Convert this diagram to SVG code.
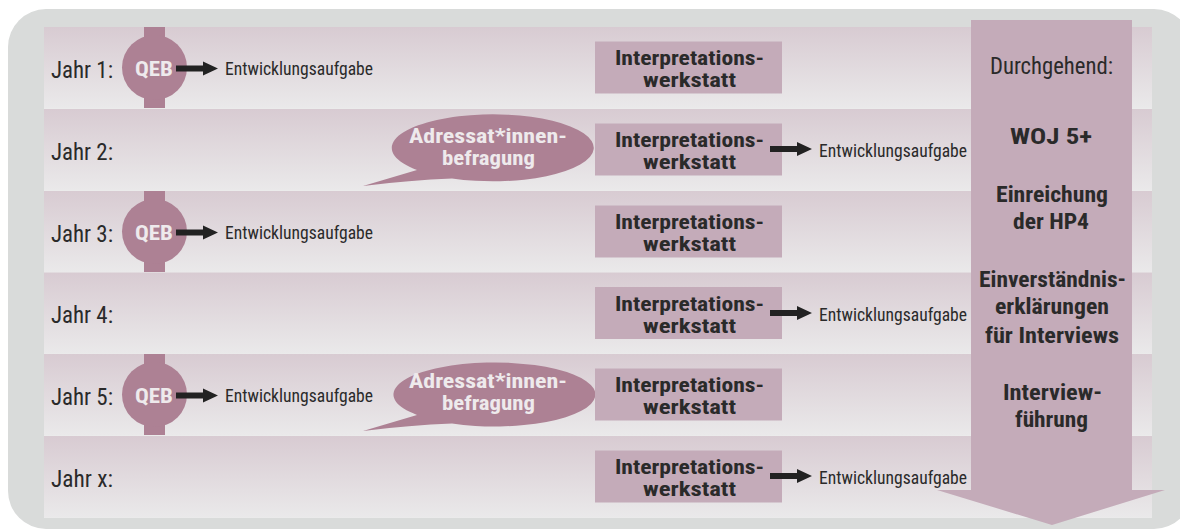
<svg xmlns="http://www.w3.org/2000/svg" xmlns:xlink="http://www.w3.org/1999/xlink" width="1180" height="529" viewBox="0 0 1180 529">
<style>
.t{font-family:"Liberation Sans Narrow","Roboto Condensed","DejaVu Sans Condensed","Liberation Sans",sans-serif;fill:#2a2a2a}
.b{font-weight:bold}
.w{fill:#eeeaec}
.m{text-anchor:middle}
.row{fill:url(#rg)}
.box{fill:#c4abb9}
.dot{fill:#ad8194}
.ar{fill:#222}
.two{font-size:20px}
</style>
<defs>
<linearGradient id="rg" x1="0" y1="0" x2="0" y2="1">
<stop offset="0" stop-color="#d8cbd2"/>
<stop offset="1" stop-color="#eae9ea"/>
</linearGradient>
<path id="arr" d="M0,-3 H27 V-7 L42,0 L27,7 V3 H0 Z"/>
</defs>
<rect x="8" y="9" width="1184" height="520" rx="38" fill="#d9dbda"/>
<rect x="44" y="27" width="1108" height="491" fill="#ebebeb"/>
<g id="rows">
<rect class="row" x="44" y="27" width="1108" height="81"/>
<rect class="row" x="44" y="109" width="1108" height="81"/>
<rect class="row" x="44" y="191" width="1108" height="81"/>
<rect class="row" x="44" y="272.5" width="1108" height="81"/>
<rect class="row" x="44" y="354" width="1108" height="81"/>
<rect class="row" x="44" y="436" width="1108" height="81.5"/>
</g>
<g id="durchgehend">
<path d="M971,20 H1132 V490 H1165 L1052,525 L937,490 H971 Z" fill="#c4abb9"/>
<text class="t m" x="1051.5" y="74" font-size="23" textLength="123" lengthAdjust="spacingAndGlyphs">Durchgehend:</text>
<text class="t b m" x="1051" y="144" font-size="22" textLength="82" lengthAdjust="spacingAndGlyphs">WOJ 5+</text>
<text class="t b m" x="1052" y="202" font-size="22" textLength="112" lengthAdjust="spacingAndGlyphs">Einreichung</text>
<text class="t b m" x="1051" y="229" font-size="22" textLength="76" lengthAdjust="spacingAndGlyphs">der HP4</text>
<text class="t b m" x="1052.5" y="287" font-size="22" textLength="147" lengthAdjust="spacingAndGlyphs">Einverständnis-</text>
<text class="t b m" x="1052" y="314" font-size="22" textLength="114" lengthAdjust="spacingAndGlyphs">erklärungen</text>
<text class="t b m" x="1052" y="343" font-size="22" textLength="134" lengthAdjust="spacingAndGlyphs">für Interviews</text>
<text class="t b m" x="1052.5" y="400" font-size="22" textLength="99" lengthAdjust="spacingAndGlyphs">Interview-</text>
<text class="t b m" x="1051.5" y="427" font-size="22" textLength="73" lengthAdjust="spacingAndGlyphs">führung</text>
</g>
<g id="jahr1">
<text class="t" x="51" y="78" font-size="23" textLength="62" lengthAdjust="spacingAndGlyphs">Jahr 1:</text>
<rect class="dot" x="144" y="27" width="21" height="81"/>
<circle class="dot" cx="154.5" cy="67.5" r="32.5"/>
<text class="t b w m" x="154" y="76" font-size="21" textLength="38" lengthAdjust="spacingAndGlyphs">QEB</text>
<text class="t" x="225" y="75" font-size="18" textLength="148" lengthAdjust="spacingAndGlyphs">Entwicklungsaufgabe</text>
<rect class="box" x="595" y="41.5" width="187" height="52"/>
<text class="t b m two" x="689.5" y="65" textLength="149" lengthAdjust="spacingAndGlyphs">Interpretations-</text>
<text class="t b m two" x="689.5" y="87" textLength="93" lengthAdjust="spacingAndGlyphs">werkstatt</text>
</g>
<g id="jahr2">
<text class="t" x="51" y="160" font-size="23" textLength="62" lengthAdjust="spacingAndGlyphs">Jahr 2:</text>
<path class="dot" d="M363,186 L417,170 A101,33.5 0 1 1 452,178.5 Q410,180 363,186 Z"/>
<text class="t b w m two" x="488" y="143" textLength="158" lengthAdjust="spacingAndGlyphs">Adressat*innen-</text>
<text class="t b w m two" x="488.5" y="165" textLength="93" lengthAdjust="spacingAndGlyphs">befragung</text>
<rect class="box" x="595" y="123.5" width="187" height="52"/>
<text class="t b m two" x="689.5" y="147" textLength="149" lengthAdjust="spacingAndGlyphs">Interpretations-</text>
<text class="t b m two" x="689.5" y="169" textLength="93" lengthAdjust="spacingAndGlyphs">werkstatt</text>
<text class="t" x="819" y="157" font-size="18" textLength="148" lengthAdjust="spacingAndGlyphs">Entwicklungsaufgabe</text>
</g>
<g id="jahr3">
<text class="t" x="51" y="242" font-size="23" textLength="62" lengthAdjust="spacingAndGlyphs">Jahr 3:</text>
<rect class="dot" x="144" y="191" width="21" height="81"/>
<circle class="dot" cx="154.5" cy="231.5" r="32.5"/>
<text class="t b w m" x="154" y="240" font-size="21" textLength="38" lengthAdjust="spacingAndGlyphs">QEB</text>
<text class="t" x="225" y="239" font-size="18" textLength="148" lengthAdjust="spacingAndGlyphs">Entwicklungsaufgabe</text>
<rect class="box" x="595" y="205.5" width="187" height="52"/>
<text class="t b m two" x="689.5" y="229" textLength="149" lengthAdjust="spacingAndGlyphs">Interpretations-</text>
<text class="t b m two" x="689.5" y="251" textLength="93" lengthAdjust="spacingAndGlyphs">werkstatt</text>
</g>
<g id="jahr4">
<text class="t" x="51" y="323" font-size="23" textLength="62" lengthAdjust="spacingAndGlyphs">Jahr 4:</text>
<rect class="box" x="595" y="287" width="187" height="52"/>
<text class="t b m two" x="689.5" y="310.5" textLength="149" lengthAdjust="spacingAndGlyphs">Interpretations-</text>
<text class="t b m two" x="689.5" y="332.5" textLength="93" lengthAdjust="spacingAndGlyphs">werkstatt</text>
<text class="t" x="819" y="320.5" font-size="18" textLength="148" lengthAdjust="spacingAndGlyphs">Entwicklungsaufgabe</text>
</g>
<g id="jahr5">
<text class="t" x="51" y="404.5" font-size="23" textLength="62" lengthAdjust="spacingAndGlyphs">Jahr 5:</text>
<rect class="dot" x="144" y="354" width="21" height="81"/>
<circle class="dot" cx="154.5" cy="394.5" r="32.5"/>
<text class="t b w m" x="154" y="403" font-size="21" textLength="38" lengthAdjust="spacingAndGlyphs">QEB</text>
<text class="t" x="225" y="402" font-size="18" textLength="148" lengthAdjust="spacingAndGlyphs">Entwicklungsaufgabe</text>
<path class="dot" d="M363,431 L417,415 A101,32 0 1 1 452,423.5 Q410,425 363,431 Z"/>
<text class="t b w m two" x="488" y="388" textLength="158" lengthAdjust="spacingAndGlyphs">Adressat*innen-</text>
<text class="t b w m two" x="488.5" y="410" textLength="93" lengthAdjust="spacingAndGlyphs">befragung</text>
<rect class="box" x="595" y="368.5" width="187" height="52"/>
<text class="t b m two" x="689.5" y="392" textLength="149" lengthAdjust="spacingAndGlyphs">Interpretations-</text>
<text class="t b m two" x="689.5" y="414" textLength="93" lengthAdjust="spacingAndGlyphs">werkstatt</text>
</g>
<g id="jahrx">
<text class="t" x="51" y="486.5" font-size="23" textLength="62" lengthAdjust="spacingAndGlyphs">Jahr x:</text>
<rect class="box" x="595" y="450.5" width="187" height="52"/>
<text class="t b m two" x="689.5" y="474" textLength="149" lengthAdjust="spacingAndGlyphs">Interpretations-</text>
<text class="t b m two" x="689.5" y="496" textLength="93" lengthAdjust="spacingAndGlyphs">werkstatt</text>
<text class="t" x="819" y="484" font-size="18" textLength="148" lengthAdjust="spacingAndGlyphs">Entwicklungsaufgabe</text>
</g>
<g id="connectors">
<use class="ar" xlink:href="#arr" x="176" y="68.5"/>
<use class="ar" xlink:href="#arr" x="176" y="232.5"/>
<use class="ar" xlink:href="#arr" x="176" y="395.5"/>
<use class="ar" xlink:href="#arr" x="770" y="149"/>
<use class="ar" xlink:href="#arr" x="770" y="313"/>
<use class="ar" xlink:href="#arr" x="770" y="476"/>
</g>
</svg>
